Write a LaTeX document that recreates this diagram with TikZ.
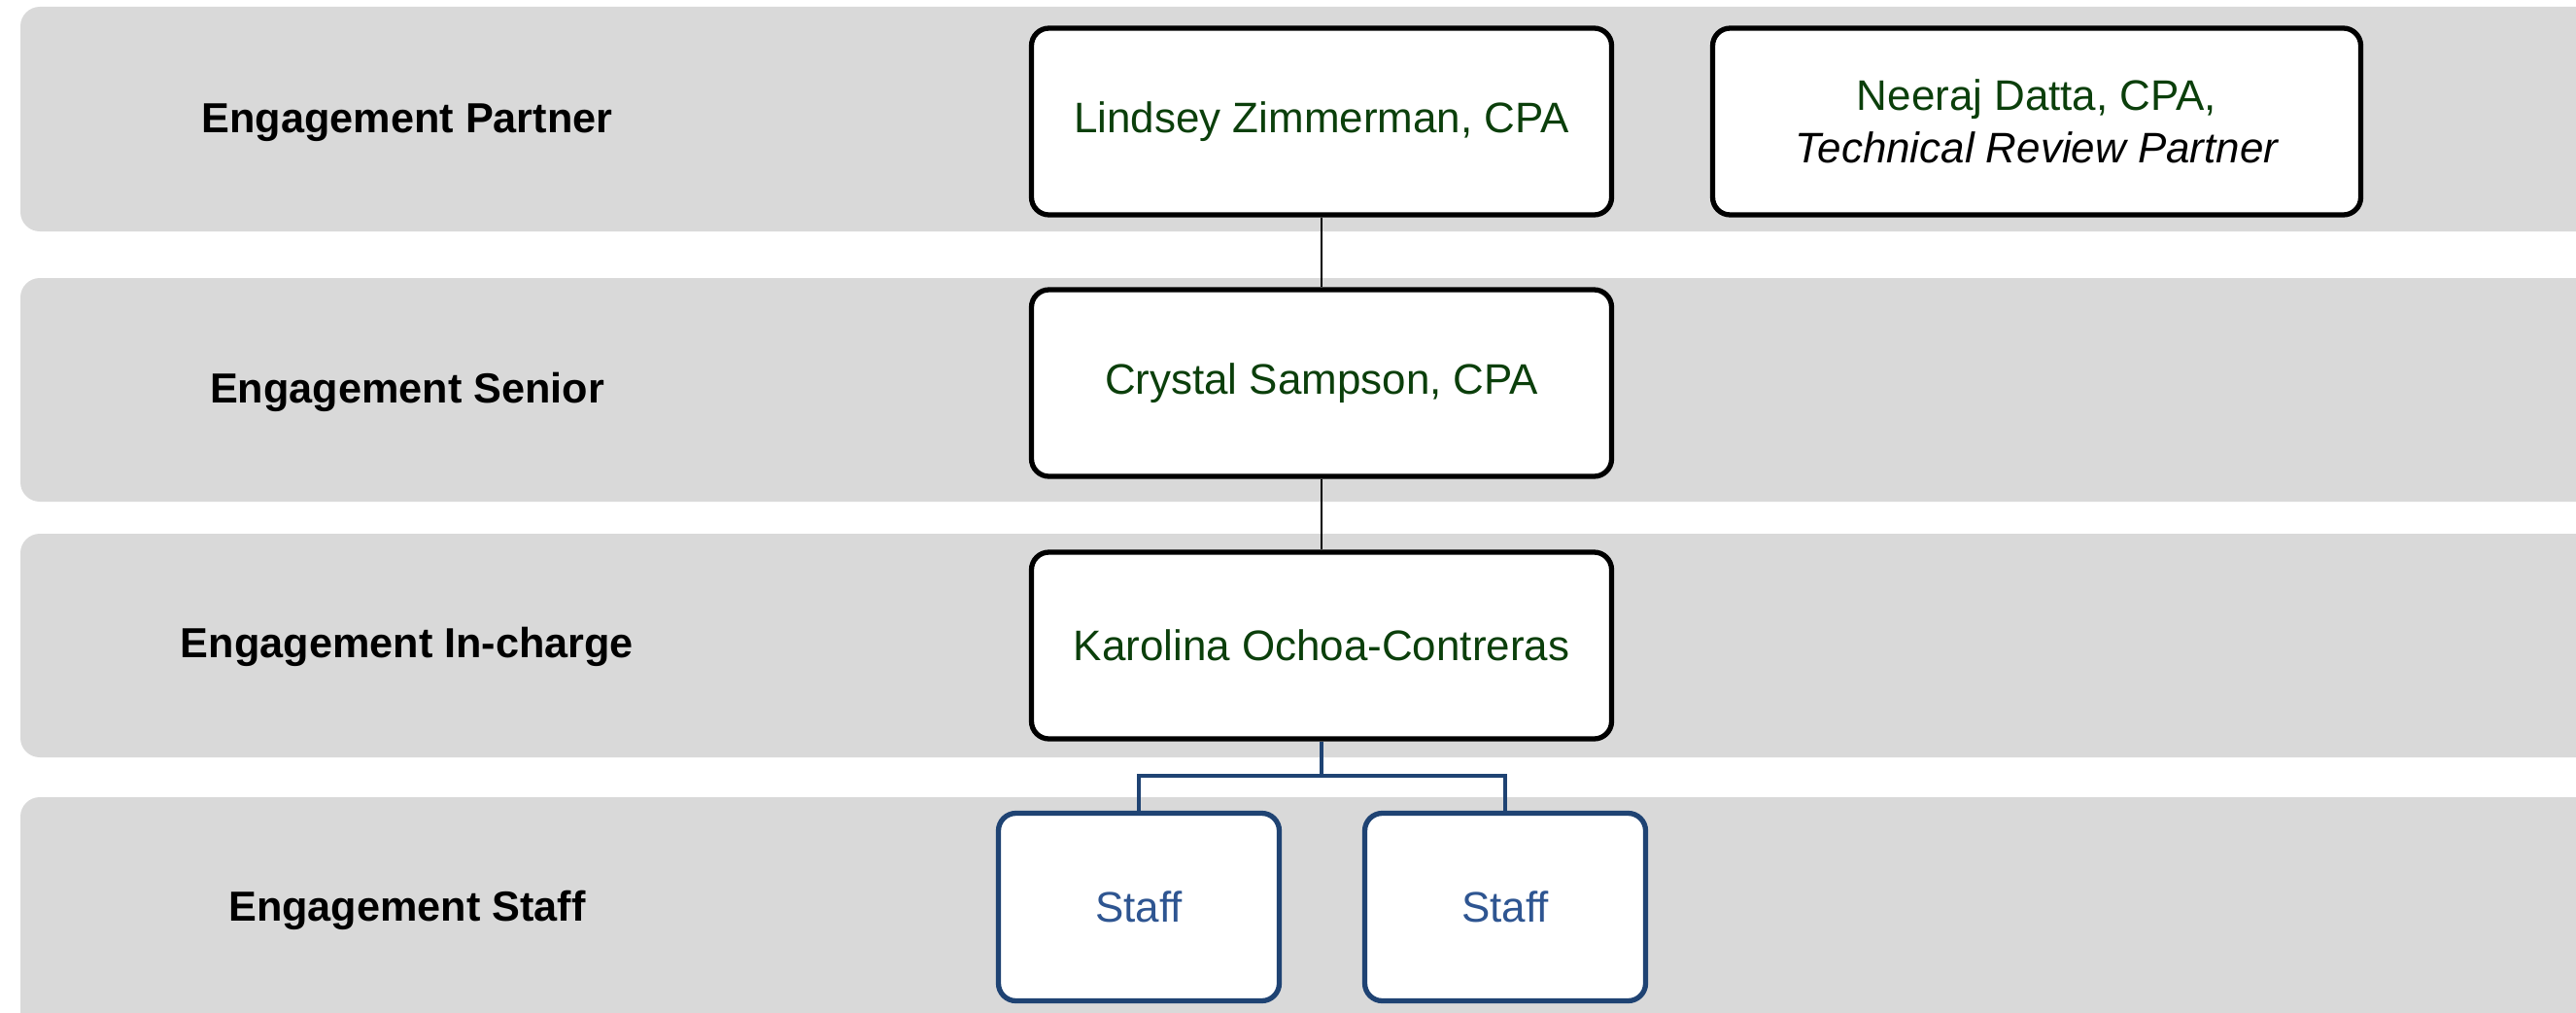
\documentclass[tikz,border=0pt]{standalone}
\usepackage{fontspec}
\setmainfont{Liberation Sans}
\usetikzlibrary{positioning}
\definecolor{bandgray}{HTML}{D9D9D9}
\definecolor{namegreen}{HTML}{0B3F0B}
\definecolor{staffblue}{HTML}{2E5591}
\definecolor{staffline}{HTML}{1F4373}

\begin{document}
\begin{tikzpicture}[
    rolelabel/.style={font=\bfseries\fontsize{12.3}{15}\selectfont},
    person/.style={draw, line width=1.5pt, rounded corners=0.18cm, fill=white,
        minimum width=5.97cm, minimum height=1.92cm, align=center,
        text=namegreen, font=\fontsize{12.5}{15.4}\selectfont},
    staffbox/.style={person, draw=staffline, minimum width=2.89cm,
        minimum height=1.93cm, text=staffblue}
]
    \useasboundingbox (0,0) rectangle (26.51,10.41);
    \clip (0,0) rectangle (26.51,10.41);

    % Bands
    \foreach \top/\bot in {10.34/8.03, 7.55/5.25, 4.92/2.62, 2.21/-0.4}
        \fill[bandgray, rounded corners=0.2cm] (0.21,\bot) rectangle (26.9,\top);

    % Role labels
    \node[rolelabel] (partner) at (4.19,9.15) {Engagement Partner};
    \node[rolelabel] (senior) at (4.19,6.38) {Engagement Senior};
    \node[rolelabel] (incharge) at (4.19,3.76) {Engagement In-charge};
    \node[rolelabel] (staff) at (4.19,1.05) {Engagement Staff};

    % People
    \node[person] (lindsey) at (13.60,9.16) {Lindsey Zimmerman, CPA};
    \node[person, minimum width=6.67cm] (neeraj) at (20.96,9.16)
        {Neeraj Datta, CPA,\\ {\color{black}\itshape Technical Review Partner}};
    \node[person] (crystal) at (13.60,6.47) {Crystal Sampson, CPA};
    \node[person] (karolina) at (13.60,3.77) {Karolina Ochoa-Contreras};
    \node[staffbox] (staffa) at (11.72,1.08) {Staff};
    \node[staffbox] (staffb) at (15.49,1.08) {Staff};

    % Reporting lines
    \draw[line width=0.6pt] (lindsey) -- (crystal);
    \draw[line width=0.6pt] (crystal) -- (karolina);
    \coordinate (split) at (13.60,2.43);
    \draw[staffline, line width=1.2pt] (karolina.south) -- (split) -| (staffa.north);
    \draw[staffline, line width=1.2pt] (split) -| (staffb.north);
\end{tikzpicture}
\end{document}
